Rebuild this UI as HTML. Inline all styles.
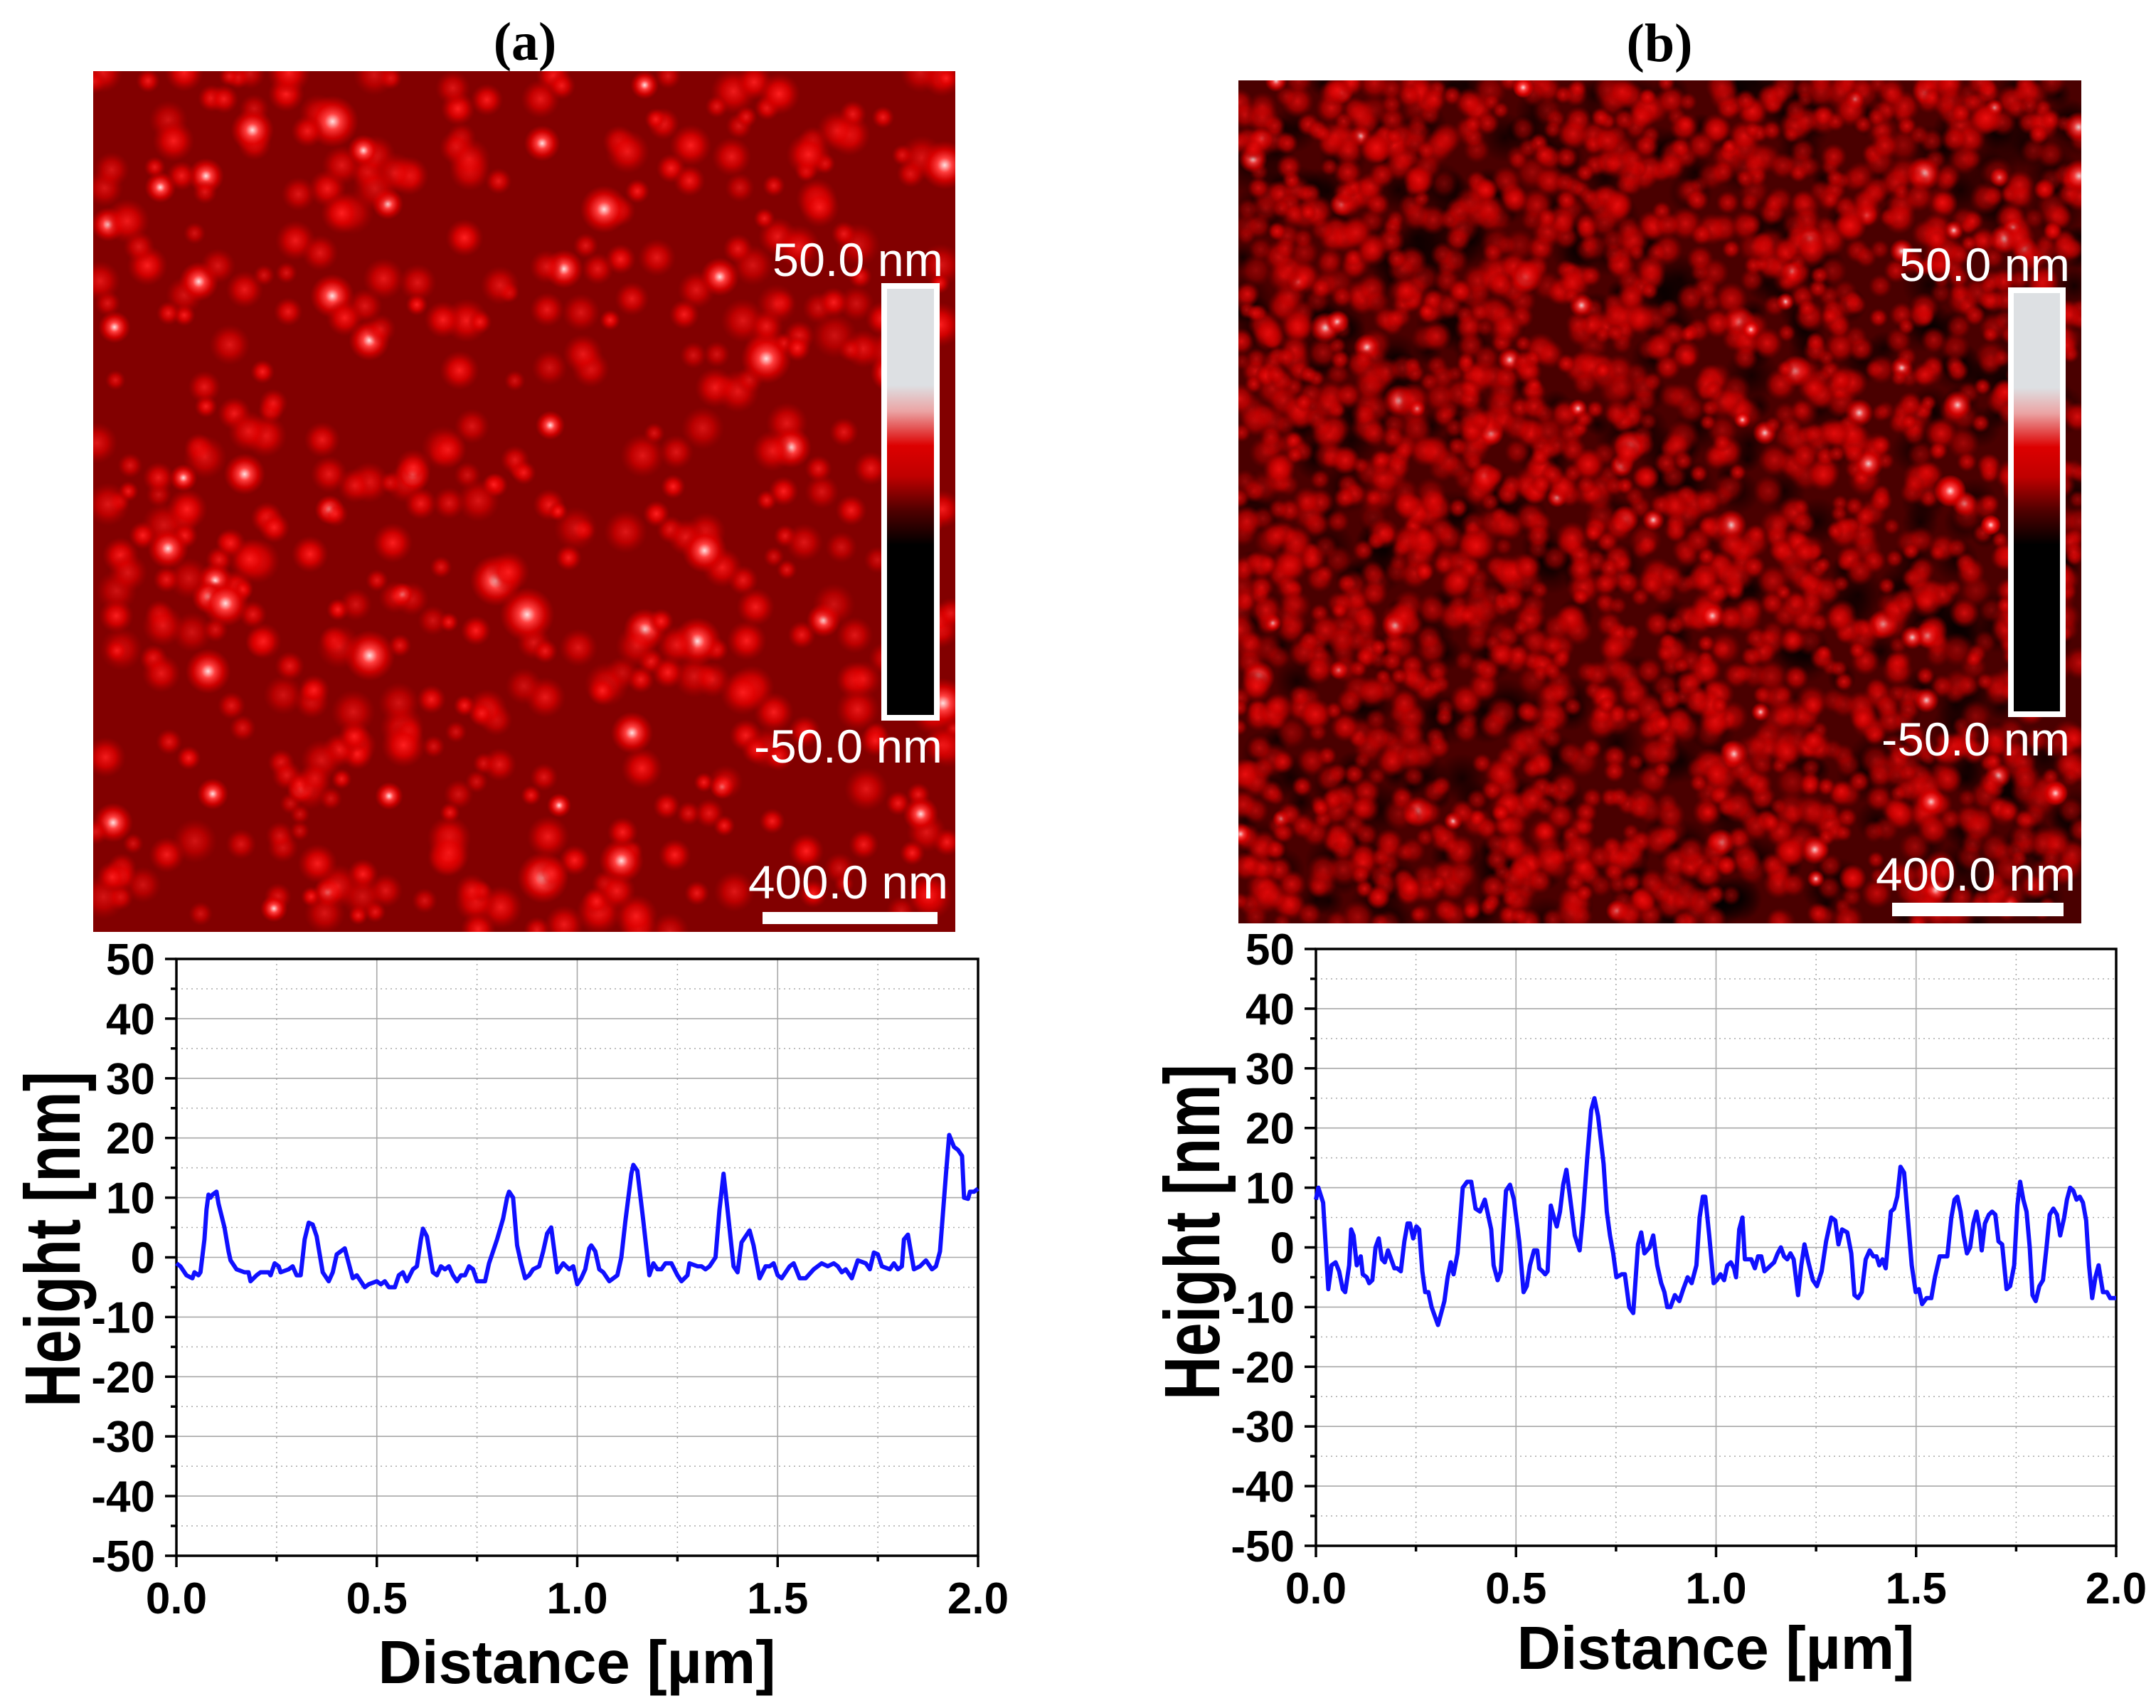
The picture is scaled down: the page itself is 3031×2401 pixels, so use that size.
<!DOCTYPE html>
<html><head><meta charset="utf-8">
<style>
html,body{margin:0;padding:0;background:#fff;}
svg{display:block;}
.tick{font-family:"Liberation Sans",sans-serif;font-weight:bold;font-size:62px;fill:#000;}
.ttl{font-family:"Liberation Sans",sans-serif;font-weight:bold;font-size:85px;fill:#000;}
.wl{font-family:"Liberation Sans",sans-serif;font-size:66px;fill:#fff;}
.pl{font-family:"Liberation Serif",serif;font-weight:bold;font-size:76px;fill:#000;}
</style></head>
<body>
<svg id="fig" width="3031" height="2401" viewBox="0 0 3031 2401" xmlns="http://www.w3.org/2000/svg">
<defs>
<radialGradient id="blobA"><stop offset="0" stop-color="#ff2020"/><stop offset="0.5" stop-color="#e00000" stop-opacity="0.85"/><stop offset="1" stop-color="#b00000" stop-opacity="0"/></radialGradient>
<radialGradient id="blobW"><stop offset="0" stop-color="#ffe0e0"/><stop offset="0.3" stop-color="#ff4040"/><stop offset="0.65" stop-color="#e00000" stop-opacity="0.8"/><stop offset="1" stop-color="#c00000" stop-opacity="0"/></radialGradient>
<radialGradient id="blobB"><stop offset="0" stop-color="#f01010" stop-opacity="0.9"/><stop offset="0.55" stop-color="#c80000" stop-opacity="0.7"/><stop offset="1" stop-color="#800000" stop-opacity="0"/></radialGradient>
<radialGradient id="blobBd"><stop offset="0" stop-color="#000" stop-opacity="0.7"/><stop offset="1" stop-color="#000" stop-opacity="0"/></radialGradient>
<linearGradient id="cbar" x1="0" y1="0" x2="0" y2="1">
<stop offset="0" stop-color="#dde0e3"/><stop offset="0.23" stop-color="#dde0e3"/><stop offset="0.29" stop-color="#eba4a4"/><stop offset="0.37" stop-color="#dd0000"/><stop offset="0.44" stop-color="#c00000"/><stop offset="0.52" stop-color="#500000"/><stop offset="0.6" stop-color="#000"/><stop offset="1" stop-color="#000"/>
</linearGradient>
<clipPath id="clipA"><rect x="131" y="100" width="1212" height="1210"/></clipPath>
<clipPath id="clipB"><rect x="1741" y="113" width="1185" height="1185"/></clipPath>
</defs>

<text class="pl" x="738" y="84" text-anchor="middle">(a)</text>
<text class="pl" x="2333" y="86" text-anchor="middle">(b)</text>

<g>
<rect x="131" y="100" width="1212" height="1210" fill="#820000"/>
<g id="blobsA" clip-path="url(#clipA)"></g>
<rect x="1243" y="402" width="74" height="607" fill="url(#cbar)" stroke="#fff" stroke-width="8"/>
<text class="wl" x="1326" y="388" text-anchor="end" textLength="240" lengthAdjust="spacingAndGlyphs">50.0 nm</text>
<text class="wl" x="1325" y="1072" text-anchor="end" textLength="265" lengthAdjust="spacingAndGlyphs">-50.0 nm</text>
<text class="wl" x="1333" y="1263" text-anchor="end" textLength="281" lengthAdjust="spacingAndGlyphs">400.0 nm</text>
<rect x="1072" y="1282" width="246" height="17" fill="#fff"/>
</g>

<g>
<rect x="1741" y="113" width="1185" height="1185" fill="#4a0000"/>
<g id="blobsB" clip-path="url(#clipB)"></g>
<rect x="2827" y="408" width="73" height="596" fill="url(#cbar)" stroke="#fff" stroke-width="8"/>
<text class="wl" x="2910" y="395" text-anchor="end" textLength="240" lengthAdjust="spacingAndGlyphs">50.0 nm</text>
<text class="wl" x="2910" y="1062" text-anchor="end" textLength="265" lengthAdjust="spacingAndGlyphs">-50.0 nm</text>
<text class="wl" x="2918" y="1252" text-anchor="end" textLength="281" lengthAdjust="spacingAndGlyphs">400.0 nm</text>
<rect x="2660" y="1269" width="241" height="19" fill="#fff"/>
</g>

<g id="chartA"></g>
<g id="chartB"></g>
</svg>
<script>
const xTicks = [0.0, 0.5, 1.0, 1.5, 2.0];
const xTickLabels = ["0.0", "0.5", "1.0", "1.5", "2.0"];
const yTicks = [50, 40, 30, 20, 10, 0, -10, -20, -30, -40, -50];
const yTickLabels = ["50", "40", "30", "20", "10", "0", "-10", "-20", "-30", "-40", "-50"];

const profileAx = [0,0.01,0.025,0.04,0.045,0.055,0.06,0.07,0.075,0.08,0.085,0.09,0.1,0.105,0.12,0.13,0.135,0.15,0.17,0.18,0.185,0.2,0.21,0.23,0.235,0.245,0.255,0.26,0.28,0.29,0.3,0.31,0.32,0.33,0.34,0.35,0.365,0.38,0.39,0.4,0.42,0.44,0.45,0.47,0.48,0.5,0.51,0.52,0.53,0.545,0.555,0.565,0.575,0.59,0.6,0.61,0.615,0.625,0.64,0.65,0.66,0.67,0.68,0.69,0.7,0.71,0.72,0.73,0.74,0.75,0.77,0.78,0.8,0.815,0.825,0.83,0.84,0.85,0.86,0.87,0.88,0.89,0.905,0.915,0.925,0.935,0.95,0.965,0.98,0.99,1.0,1.01,1.02,1.03,1.035,1.045,1.055,1.065,1.08,1.1,1.11,1.12,1.135,1.14,1.15,1.165,1.18,1.19,1.2,1.21,1.22,1.235,1.25,1.26,1.275,1.28,1.3,1.31,1.32,1.33,1.345,1.355,1.365,1.375,1.39,1.4,1.41,1.43,1.44,1.455,1.47,1.48,1.49,1.5,1.51,1.53,1.54,1.555,1.57,1.59,1.61,1.625,1.64,1.65,1.66,1.67,1.685,1.7,1.72,1.73,1.74,1.75,1.76,1.78,1.79,1.8,1.81,1.815,1.825,1.84,1.855,1.87,1.885,1.895,1.905,1.92,1.928,1.94,1.95,1.96,1.965,1.975,1.98,1.99,2.0];
const profileAy = [-1,-1.5,-3,-3.5,-2.5,-3,-2.5,3,8,10.5,10,10.5,11,9,5,1,-0.5,-2,-2.5,-2.5,-4,-3,-2.5,-2.5,-3,-1,-1.5,-2.5,-2,-1.5,-3,-3,3,5.8,5.5,3.5,-2.5,-4,-2.5,0.5,1.5,-3.5,-3,-5,-4.5,-4,-4.5,-4,-5,-5,-3,-2.5,-4,-2,-1.5,3,4.8,3.5,-2.5,-3,-1.5,-2,-1.5,-3,-4,-3,-3,-1.5,-2,-4,-4,-1,3,6.5,10,11,10,2,-1,-3.5,-3,-2,-1.5,1,4,5,-2.5,-1,-2,-1.5,-4.5,-3.5,-2,1.5,2,1,-2,-2.5,-4,-3,0,6,14,15.5,14.5,6,-3,-1,-2,-2,-1,-1,-3,-4,-3,-1,-1.5,-1.5,-2,-1.5,0,8,14,8,-1.5,-2.5,2.5,4.5,2,-3.5,-1.5,-1.5,-1,-3,-3.5,-1.5,-1,-3.5,-3.5,-2,-1,-1.5,-1,-1.5,-2.5,-2,-3.5,-0.5,-1,-2,0.8,0.5,-1.5,-2,-1,-2,-1.5,3,3.8,-2,-1.5,-0.5,-2,-1.5,1,14,20.5,18.5,18,17,10,9.8,11,11,11.5];

const profileBx = [0,0.006,0.018,0.031,0.039,0.049,0.058,0.067,0.073,0.083,0.088,0.094,0.102,0.112,0.117,0.127,0.133,0.141,0.149,0.157,0.165,0.172,0.18,0.188,0.196,0.203,0.212,0.221,0.229,0.235,0.243,0.251,0.258,0.266,0.273,0.281,0.289,0.305,0.321,0.329,0.337,0.344,0.354,0.367,0.378,0.388,0.399,0.41,0.422,0.438,0.444,0.454,0.462,0.475,0.485,0.495,0.508,0.519,0.527,0.535,0.545,0.553,0.558,0.566,0.573,0.579,0.587,0.595,0.602,0.61,0.618,0.626,0.634,0.647,0.659,0.668,0.678,0.688,0.696,0.705,0.719,0.727,0.735,0.743,0.751,0.764,0.772,0.783,0.793,0.805,0.813,0.821,0.834,0.843,0.853,0.863,0.871,0.878,0.886,0.897,0.908,0.918,0.929,0.939,0.951,0.959,0.967,0.973,0.983,0.994,1.002,1.011,1.02,1.028,1.037,1.045,1.05,1.058,1.066,1.072,1.08,1.088,1.097,1.105,1.113,1.121,1.129,1.137,1.145,1.154,1.162,1.17,1.178,1.186,1.194,1.205,1.213,1.221,1.231,1.242,1.252,1.264,1.275,1.288,1.298,1.306,1.315,1.328,1.338,1.346,1.355,1.364,1.374,1.384,1.393,1.401,1.408,1.416,1.424,1.437,1.445,1.453,1.461,1.47,1.478,1.489,1.499,1.507,1.515,1.526,1.538,1.547,1.559,1.57,1.578,1.588,1.596,1.603,1.611,1.619,1.627,1.635,1.643,1.651,1.659,1.664,1.672,1.682,1.69,1.698,1.706,1.715,1.726,1.735,1.745,1.753,1.76,1.768,1.776,1.784,1.791,1.799,1.808,1.817,1.826,1.834,1.843,1.852,1.86,1.87,1.877,1.885,1.893,1.901,1.909,1.917,1.925,1.932,1.94,1.948,1.956,1.967,1.977,1.985,2.0];
const profileBy = [8,10,7.5,-7,-3,-2.5,-4,-7,-7.5,-3,3,2,-3,-1.5,-4.5,-5,-6,-5.5,0,1.5,-2,-2.5,-0.5,-2,-3.5,-3.5,-4,1,4,4,1.5,3.5,3,-4,-7.5,-7.5,-10,-13,-9,-5,-2.5,-4.5,-1,10,11,11,6.5,6,8,3,-3,-5.5,-4,9.5,10.5,8,1,-7.5,-6.5,-3,-0.5,-0.5,-3.5,-4,-4.5,-4,7,5,3.5,6,10.5,13,9,2,-0.5,6,15,23,25,22,14,6,2,-1,-5,-4.5,-4.5,-10,-11,0.5,2.5,-1,0,2,-3,-6,-7.5,-10,-10,-8,-9,-7,-5,-6,-3,5,8.5,8.5,2,-6,-5.5,-4.5,-5.5,-3,-2.5,-3.5,-5,3,5,-2,-2,-2,-3.5,-1.5,-1.5,-4,-3.5,-3,-2.5,-1,0,-1.5,-2,-1,-2,-8,-3,0.5,-2.5,-5.5,-6.5,-4,1,5,4.5,0.5,3,2.5,-1,-8,-8.5,-7.5,-2,-0.5,-1.5,-1.5,-3,-2,-3.5,6,6.5,8.5,13.5,12.5,6,-3,-7.5,-7,-9.5,-8.5,-8.5,-5,-1.5,-1.5,-1.5,5,8,8.5,6,2,-1,0,4,6,3,-0.5,4,5.5,6,5.5,1,0.5,-7,-6.5,-3,7,11,8,6,0,-8,-9,-6.5,-5.5,0,5.5,6.5,5.5,2,5,8,10,9.5,8,8.5,7.5,4.5,-3,-8.5,-5,-3,-7.5,-7.5,-8.5,-8.5];

const NS = "http://www.w3.org/2000/svg";
function mk(tag, attrs, parent) {
  const e = document.createElementNS(NS, tag);
  for (const k in attrs) e.setAttribute(k, attrs[k]);
  parent.appendChild(e);
  return e;
}

function drawChart(g, L, T, R, B, xs, ys, titleX, titleXy, titleYx, titleYy, tag) {
  const sx = v => L + (v - 0) / 2 * (R - L);
  const sy = v => B - (v + 50) / 100 * (B - T);
  for (let v = -45; v < 50; v += 10) {
    const l = mk('line', {x1: L, x2: R, y1: sy(v), y2: sy(v), stroke: '#aaa', 'stroke-width': 1.5, 'stroke-dasharray': '2,5'}, g);
    
    
  }
  for (let v = 0.25; v < 2; v += 0.5) {
    const l = mk('line', {x1: sx(v), x2: sx(v), y1: T, y2: B, stroke: '#aaa', 'stroke-width': 1.5, 'stroke-dasharray': '2,5'}, g);
    
    
  }
  yTicks.forEach(v => {
    const l = mk('line', {x1: L, x2: R, y1: sy(v), y2: sy(v), stroke: '#a8a8a8', 'stroke-width': 1.6}, g);
    
    
  });
  xTicks.forEach(v => {
    const l = mk('line', {x1: sx(v), x2: sx(v), y1: T, y2: B, stroke: '#a8a8a8', 'stroke-width': 1.6}, g);
    
    
  });
  const fr = mk('rect', {x: L, y: T, width: R - L, height: B - T, fill: 'none', stroke: '#000', 'stroke-width': 3.5}, g);
  
  
  yTicks.forEach((v, i) => {
    const t = mk('line', {x1: L - 16, x2: L, y1: sy(v), y2: sy(v), stroke: '#000', 'stroke-width': 3.5}, g);
    
    
    const tx = mk('text', {x: L - 30, y: sy(v) + 22, 'text-anchor': 'end', class: 'tick'}, g);
    tx.textContent = yTickLabels[i];
    
    
  });
  for (let v = -45; v < 50; v += 10) {
    const t = mk('line', {x1: L - 8, x2: L, y1: sy(v), y2: sy(v), stroke: '#000', 'stroke-width': 3.5}, g);
    
    
  }
  xTicks.forEach((v, i) => {
    const t = mk('line', {x1: sx(v), x2: sx(v), y1: B, y2: B + 16, stroke: '#000', 'stroke-width': 3.5}, g);
    
    
    const tx = mk('text', {x: sx(v), y: B + 81, 'text-anchor': 'middle', class: 'tick'}, g);
    tx.textContent = xTickLabels[i];
    
    
  });
  for (let v = 0.25; v < 2; v += 0.5) {
    const t = mk('line', {x1: sx(v), x2: sx(v), y1: B, y2: B + 8, stroke: '#000', 'stroke-width': 3.5}, g);
    
    
  }
  let d = '';
  xs.forEach((x, i) => { d += (i ? 'L' : 'M') + sx(x).toFixed(1) + ',' + sy(ys[i]).toFixed(1); });
  const p = mk('path', {d: d, fill: 'none', stroke: '#1010ff', 'stroke-width': 6, 'stroke-linejoin': 'round'}, g);
  
  
  const xt = mk('text', {x: titleX, y: titleXy, 'text-anchor': 'middle', class: 'ttl'}, g);
  xt.textContent = 'Distance [\u00b5m]';
  
  
  const yt = mk('text', {x: 0, y: 0, 'text-anchor': 'middle', class: 'ttl', transform: 'translate(' + titleYx + ',' + titleYy + ') rotate(-90) scale(1,1.3)'}, g);
  yt.textContent = 'Height [nm]';
  
  
}

drawChart(document.getElementById('chartA'), 248, 1348, 1375, 2187, profileAx, profileAy, 811, 2366, 112, 1742, 'a');
drawChart(document.getElementById('chartB'), 1850, 1334, 2975, 2173, profileBx, profileBy, 2412, 2346, 1714, 1732, 'b');

// AFM texture (decorative)
let seed = 12345;
function rnd() { seed = (seed * 1103515245 + 12345) % 2147483648; return seed / 2147483648; }
const gA = document.getElementById('blobsA');
for (let i = 0; i < 500; i++) {
  const r = 14 + rnd() * 18;
  const white = rnd() < 0.12;
  const c = mk('circle', {cx: 131 + rnd() * 1212, cy: 100 + rnd() * 1210, r: r * (white ? 1.2 : 1), fill: white ? 'url(#blobW)' : 'url(#blobA)', opacity: white ? 1 : 0.6 + rnd() * 0.4}, gA);
  
  
}
const gB = document.getElementById('blobsB');
for (let i = 0; i < 500; i++) {
  const c = mk('circle', {cx: 1741 + rnd() * 1185, cy: 113 + rnd() * 1185, r: 15 + rnd() * 25, fill: 'url(#blobBd)'}, gB);
  
  
}
for (let i = 0; i < 2600; i++) {
  const r = 12 + rnd() * 12;
  const white = rnd() < 0.03;
  const c = mk('circle', {cx: 1741 + rnd() * 1185, cy: 113 + rnd() * 1185, r: r, fill: white ? 'url(#blobW)' : 'url(#blobB)', opacity: white ? 0.9 : 0.45 + rnd() * 0.5}, gB);
  
  
}
</script>
</body></html>
